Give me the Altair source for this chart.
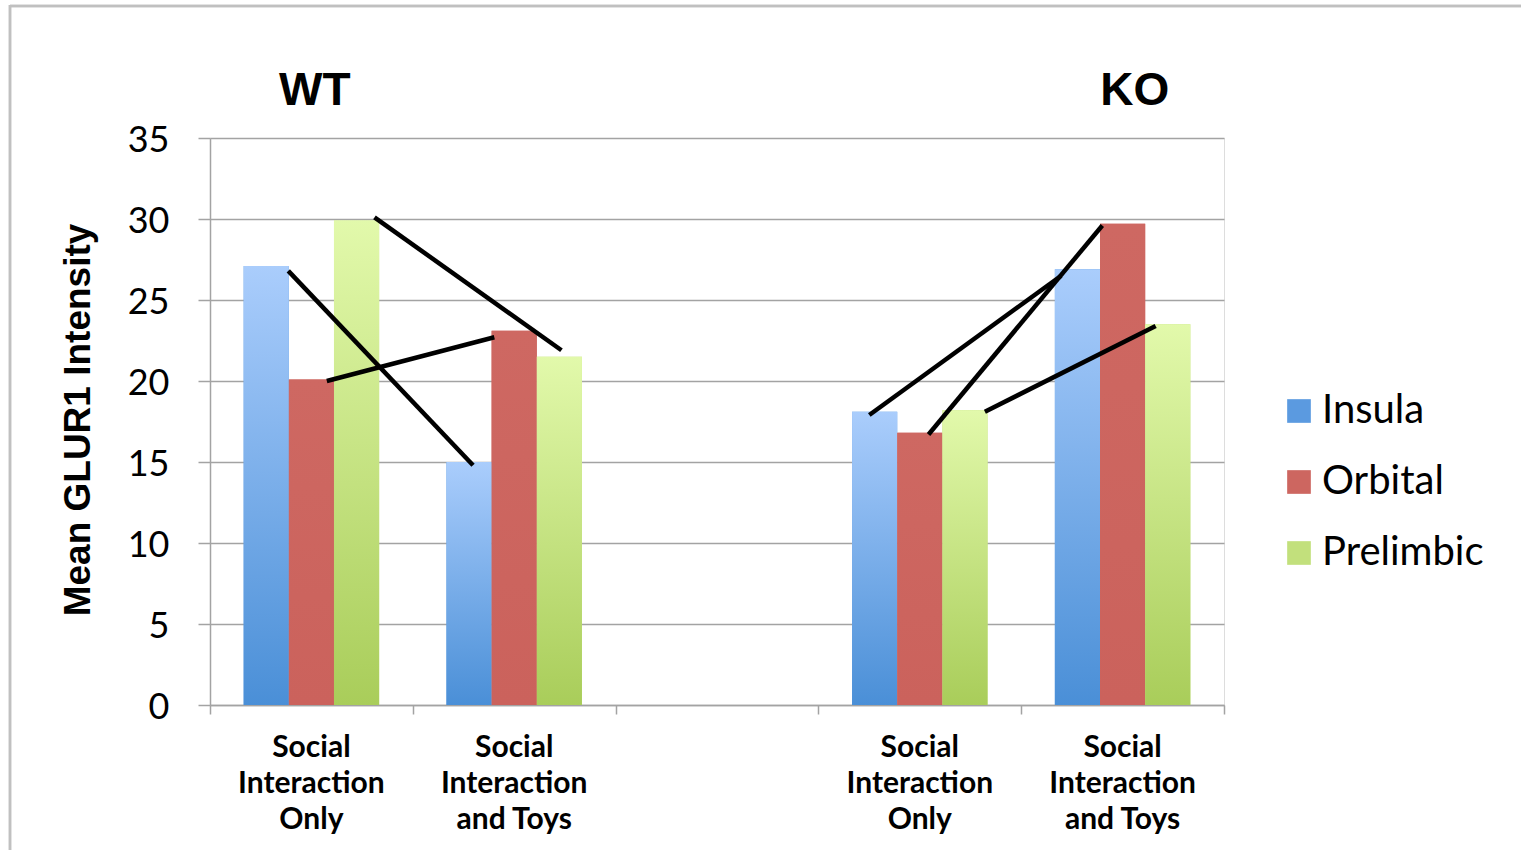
import altair as alt
import pandas as pd

# ---------------- data ----------------
slots = ["WT|Social|Interaction|Only", "WT|Social|Interaction|and Toys", "gap",
         "KO|Social|Interaction|Only", "KO|Social|Interaction|and Toys"]
conditions = ["WT|Social|Interaction|Only", "WT|Social|Interaction|and Toys",
              "KO|Social|Interaction|Only", "KO|Social|Interaction|and Toys"]
regions = ["Insula", "Orbital", "Prelimbic"]
insula = [27.1, 15.0, 18.1, 26.9]
orbital = [20.1, 23.1, 16.8, 29.7]
prelimbic = [29.9, 21.5, 18.2, 23.5]

# hand-drawn connector lines (x in slot units 0..5, y in data units)
line_x1 = [0.386, 0.576, 0.811, 3.251, 3.543, 3.821]
line_y1 = [26.8, 20.0, 30.1, 17.9, 16.7, 18.1]
line_x2 = [1.297, 1.402, 1.733, 4.197, 4.400, 4.663]
line_y2 = [14.8, 22.7, 21.9, 26.5, 29.6, 23.4]

slot_boundaries = [0, 1, 2, 3, 4, 5]

group_titles = ["WT", "KO"]
group_title_x = [0.517, 4.56]
group_title_y = [37.9, 37.9]

colors = ["#5b9ae0", "#cd6660", "#c2e07c"]
gradients = {
    "Insula": ("#aacdfc", "#4a8fd7"),
    "Orbital": ("#ce6862", "#cb625c"),
    "Prelimbic": ("#e2f9ab", "#a9cd5a"),
}

rows = []
for c, a, b, p in zip(conditions, insula, orbital, prelimbic):
    rows.append({"slot": c, "region": "Insula", "value": a})
    rows.append({"slot": c, "region": "Orbital", "value": b})
    rows.append({"slot": c, "region": "Prelimbic", "value": p})
bars_df = pd.DataFrame(rows)
lines_df = pd.DataFrame({"x1": line_x1, "y1": line_y1, "x2": line_x2, "y2": line_y2})
titles_df = pd.DataFrame({"t": group_titles, "x": group_title_x, "y": group_title_y})

W, H = 1014, 567
GRID = "#a3a3a3"

x_scale = alt.Scale(domain=slots, paddingInner=0.332, paddingOuter=0.166)
off_scale = alt.Scale(domain=regions, paddingInner=0, paddingOuter=0)
y_scale = alt.Scale(domain=[0, 35], nice=False)

x_axis = alt.Axis(
    title=None, ticks=False,
    domainColor=GRID, domainWidth=1.5, grid=False, labelAngle=0,
    labelExpr="datum.value == 'gap' ? '' : slice(split(datum.value, '|'), 1)",
    labelFont="Lato", labelFontWeight="bold", labelFontSize=30, labelColor="#000000",
    labelLineHeight=36, labelPadding=27, labelBaseline="top",
)
y_axis = alt.Axis(
    values=[0, 5, 10, 15, 20, 25, 30, 35], grid=True, gridColor=GRID, gridWidth=1.5,
    tickSize=12, tickColor=GRID, tickWidth=1.5, domainColor=GRID, domainWidth=1.5,
    labelFont="Lato", labelFontSize=36, labelColor="#000000", labelPadding=29,
    labelBaseline="middle", labelOffset=2,
    title="Mean GLUR1 Intensity", titleFont="Liberation Sans", titleFontWeight="bold",
    titleFontSize=37, titleColor="#000000", titleX=-121, titleY=H / 2 - 2,
    titleBaseline="alphabetic", titleAngle=-90, titleAlign="center",
)

base_bars = alt.Chart(bars_df).mark_bar().encode(
    x=alt.X("slot:N", scale=x_scale, axis=x_axis, sort=slots),
    xOffset=alt.XOffset("region:N", scale=off_scale),
    y=alt.Y("value:Q", scale=y_scale, axis=y_axis),
    color=alt.Color(
        "region:N",
        scale=alt.Scale(domain=regions, range=colors),
        legend=alt.Legend(
            title=None, orient="none", legendX=1069, legendY=253, symbolType="square",
            symbolSize=560, symbolStrokeWidth=0, labelFont="Lato", labelFontSize=40,
            labelColor="#000000", labelOffset=3, rowPadding=31, padding=0,
            labelLimit=400,
        ),
    ),
)

grad_layers = []
for r in regions:
    top, bottom = gradients[r]
    grad = {
        "gradient": "linear", "x1": 0, "y1": 0, "x2": 0, "y2": 1,
        "stops": [{"offset": 0, "color": top}, {"offset": 1, "color": bottom}],
    }
    grad_layers.append(
        alt.Chart(bars_df).transform_filter(alt.datum.region == r).mark_bar(fill=grad).encode(
            x=alt.X("slot:N", scale=x_scale, axis=None, sort=slots),
            xOffset=alt.XOffset("region:N", scale=off_scale),
            y=alt.Y("value:Q", scale=y_scale),
        )
    )

xq = alt.Scale(domain=[0, 5], nice=False, zero=False)
xq_axis = alt.Axis(
    orient="bottom", values=slot_boundaries, labels=False, domain=False, grid=False,
    title=None, ticks=True, tickSize=9, tickColor=GRID, tickWidth=1.5,
)

connectors = alt.Chart(lines_df).mark_rule(color="#000000", strokeWidth=4.5).encode(
    x=alt.X("x1:Q", scale=xq, axis=xq_axis),
    x2="x2:Q",
    y=alt.Y("y1:Q", scale=y_scale),
    y2="y2:Q",
)

titles = alt.Chart(titles_df).mark_text(
    font="Liberation Sans", fontWeight="bold", fontSize=46, color="#000000",
    align="center", baseline="middle",
).encode(
    x=alt.X("x:Q", scale=xq, axis=None),
    y=alt.Y("y:Q", scale=y_scale),
    text="t:N",
)

frame_top = alt.Chart(titles_df).mark_rule(color="#c0c0c0", strokeWidth=2.5).encode(
    x=alt.value(-200), x2=alt.value(1400), y=alt.value(-132)
)
frame_left = alt.Chart(titles_df).mark_rule(color="#c0c0c0", strokeWidth=2.5).encode(
    x=alt.value(-200), y=alt.value(-133), y2=alt.value(800)
)

chart = alt.layer(
    base_bars, *grad_layers, connectors, titles, frame_top, frame_left
).resolve_scale(x="independent").properties(
    width=W, height=H,
    padding={"left": 210, "top": 138, "right": 297, "bottom": 145},
    autosize=alt.AutoSizeParams(type="none"),
).configure_view(stroke=None).configure(background="white")

chart.save("out.html", embed_options={"renderer": "svg", "actions": False})
